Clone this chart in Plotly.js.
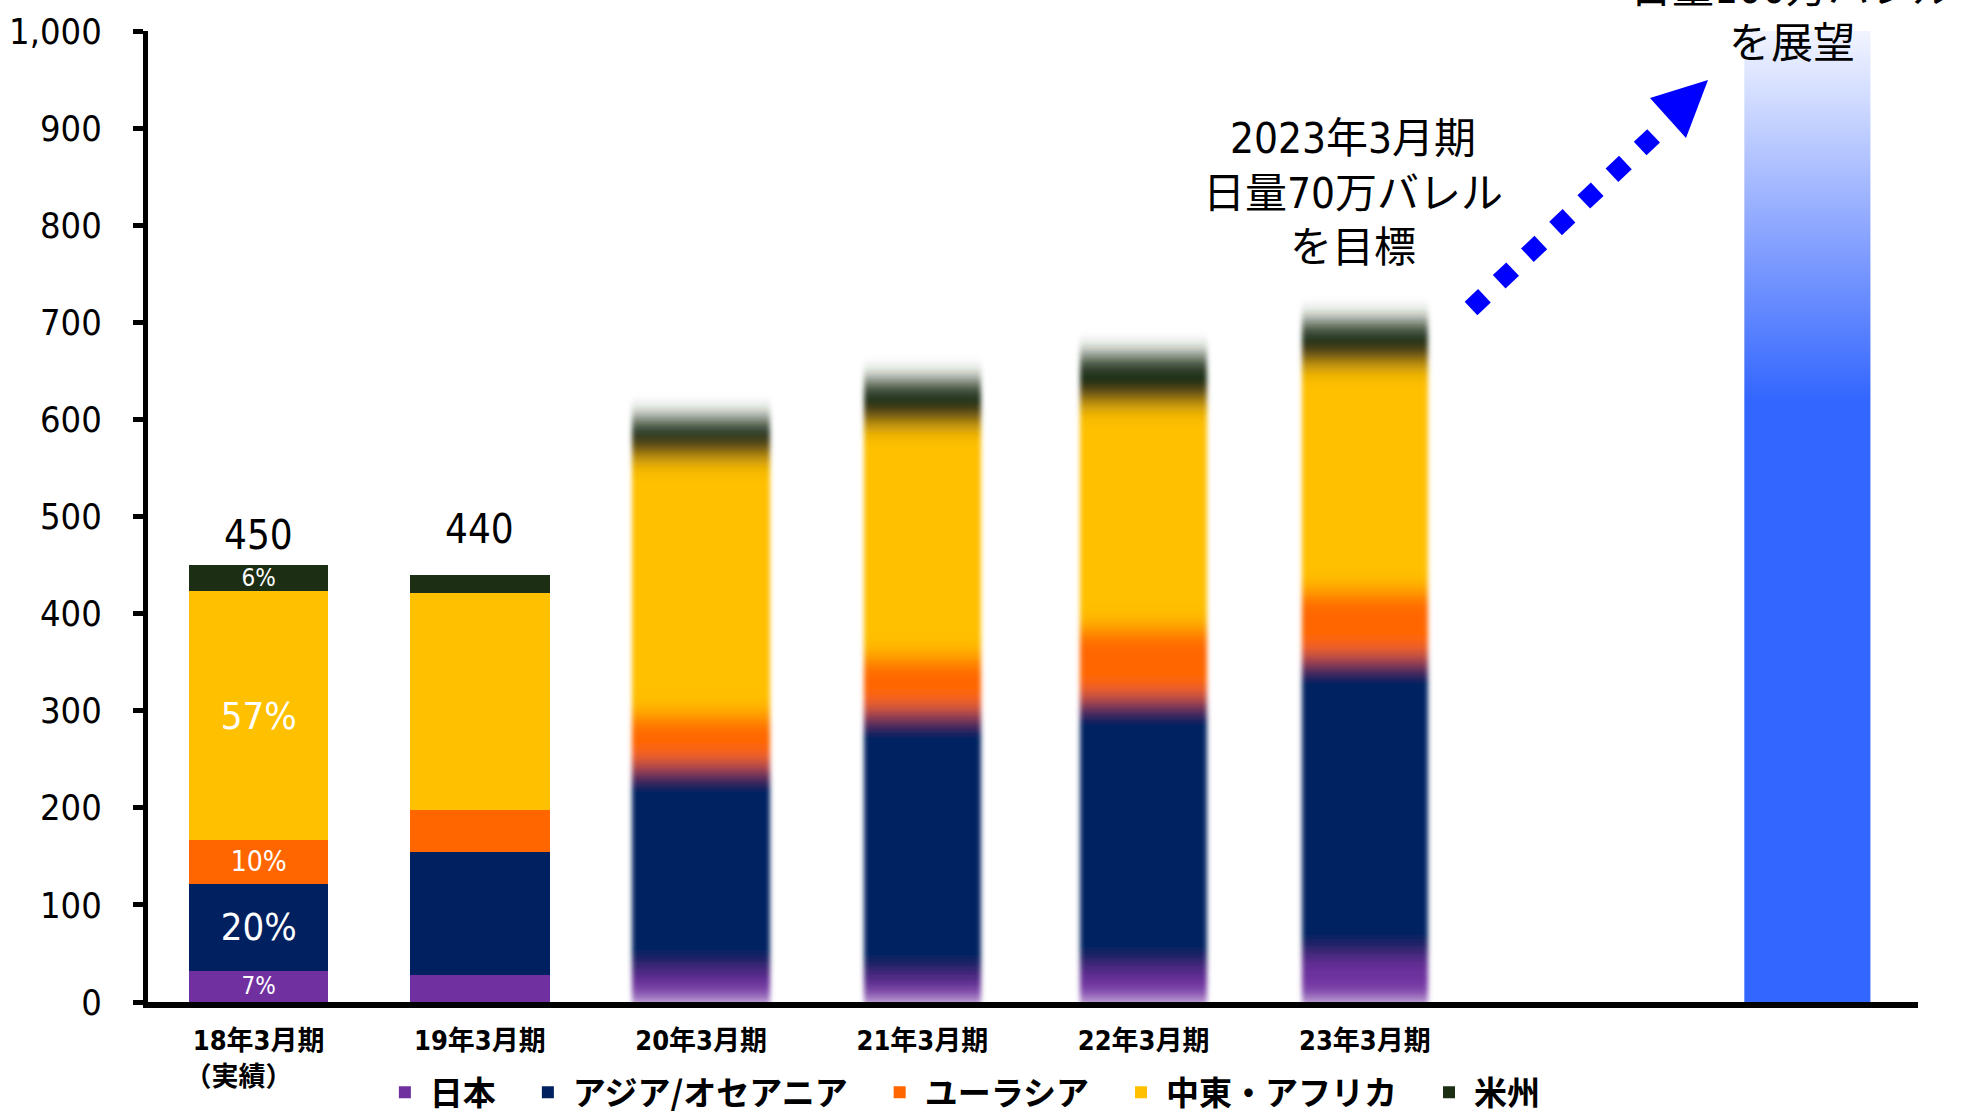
<!DOCTYPE html>
<html>
<head>
<meta charset="utf-8">
<script src="https://cdn.plot.ly/plotly-3.0.1.min.js"></script>
<style>
  html, body { margin: 0; padding: 0; background: #ffffff; }
  #chart { width: 1966px; height: 1116px; }
</style>
</head>
<body>
<div id="chart"></div>
<script>
// ---------------- data ----------------
const periods = ['18年3月期<br>（実績）\u3000\u3000', '19年3月期', '20年3月期', '21年3月期', '22年3月期', '23年3月期'];
const seriesNames = ['日本', 'アジア/オセアニア', 'ユーラシア', '中東・アフリカ', '米州'];
const japan            = [32, 28, 30, 25, 33, 45];
const asiaOceania      = [90, 126, 214, 275, 280, 310];
const eurasia          = [45, 44, 52, 55, 72, 68];
const middleEastAfrica = [256, 223, 264, 239, 231, 233];
const americas         = [27, 19, 40, 46, 49, 44];
const shareLabels = {        // shares shown inside the 18年3月期 bar
  japan: '7%', asiaOceania: '20%', eurasia: '10%', middleEastAfrica: '57%', americas: '6%'
};
const actualCount = 2;       // first two periods are actual, the rest are plans
const outlookIndex = 7;      // position of the long-term outlook bar
const outlookValue = 1000;   // 日量100万バレル
const targetNote = '2023年3月期<br>日量70万バレル<br>を目標';
const outlookNote = '日量100万バレル<br>を展望';

// ---------------- styles ----------------
const colors = ['#7030a0', '#002060', '#ff6600', '#ffc000', '#1c2e14'];
const shareFontSizes = [24, 38, 28, 38, 24];
const barWidths = [0.625, 0.63, 0.625, 0.53, 0.575, 0.57];
const outlookWidth = 0.57;
const totalShift = [30, 46];
const legendPad = '\u2002\u2006';  // spacing after each legend entry
const NUM = "'Liberation Sans Narrow', 'DejaVu Sans Condensed', 'Noto Sans CJK JP', sans-serif";
const JP = "'Noto Sans CJK JP', sans-serif";

const series = [japan, asiaOceania, eurasia, middleEastAfrica, americas];
const shareKeys = ['japan', 'asiaOceania', 'eurasia', 'middleEastAfrica', 'americas'];

const xIdx = periods.map((_, i) => i);
const traces = [];
series.forEach((vals, s) => {
  // actual years (sharp)
  traces.push({
    type: 'bar', name: seriesNames[s] + legendPad, legendgroup: seriesNames[s],
    x: xIdx.slice(0, actualCount), y: vals.slice(0, actualCount),
    width: barWidths.slice(0, actualCount),
    marker: { color: colors[s], line: { width: 0 } },
    text: xIdx.slice(0, actualCount).map(i => i === 0 ? shareLabels[shareKeys[s]] : ''),
    textposition: 'inside', insidetextanchor: 'middle', textangle: 0,
    constraintext: 'none',
    textfont: { family: NUM, size: shareFontSizes[s], color: '#ffffff' },
    xaxis: 'x', yaxis: 'y', hoverinfo: 'name+y'
  });
});
series.forEach((vals, s) => {
  // plan years (drawn on an overlay axis so that they can be softened)
  traces.push({
    type: 'bar', name: seriesNames[s], legendgroup: seriesNames[s], showlegend: false,
    x: xIdx.slice(actualCount), y: vals.slice(actualCount),
    width: barWidths.slice(actualCount),
    marker: { color: colors[s], line: { width: 0 } },
    xaxis: 'x2', yaxis: 'y', hoverinfo: 'name+y'
  });
});
// long-term outlook bar (gradient fill)
traces.push({
  type: 'scatter', mode: 'none', showlegend: false, hoverinfo: 'skip',
  x: [outlookIndex - outlookWidth / 2, outlookIndex + outlookWidth / 2, outlookIndex + outlookWidth / 2, outlookIndex - outlookWidth / 2],
  y: [0, 0, outlookValue, outlookValue],
  fill: 'toself',
  fillgradient: {
    type: 'vertical',
    colorscale: [[0, '#3366ff'], [0.62, '#3366ff'], [0.8, '#8fa8ff'], [0.93, '#d0dbff'], [1, '#f2f5ff']]
  }
});

// totals above actual bars
const annotations = [];
for (let i = 0; i < actualCount; i++) {
  const total = series.reduce((a, v) => a + v[i], 0);
  annotations.push({
    x: i, y: total, xref: 'x', yref: 'y', text: String(total), showarrow: false,
    yanchor: 'middle', yshift: totalShift[i],
    font: { family: NUM, size: 40, color: '#000000' }
  });
}
annotations.push({
  x: 5, y: 0.833, xref: 'x', yref: 'paper', text: targetNote, showarrow: false,
  xshift: -12, yanchor: 'middle', align: 'center',
  font: { family: NUM, size: 42, color: '#000000' }
});
annotations.push({
  x: outlookIndex, y: 1.015, xref: 'x', yref: 'paper', text: outlookNote, showarrow: false,
  xshift: -15, yanchor: 'middle', align: 'center',
  font: { family: NUM, size: 42, color: '#000000' }
});

// arrow (dotted body + head), positioned in paper units
const M = { l: 148, r: 48, t: 31, b: 114, autoexpand: false };
const W = 1966, H = 1116;
const pw = W - M.l - M.r, ph = H - M.t - M.b;
const px = X => (X - M.l) / pw;
const py = Y => (H - M.b - Y) / ph;
const shapes = [
  {
    type: 'line', xref: 'paper', yref: 'paper',
    x0: px(1471), y0: py(308.5), x1: px(1654), y1: py(135.5),
    line: { color: '#0000ff', width: 18.5, dash: '18.5px,20.3px' }
  },
  {
    type: 'path', xref: 'paper', yref: 'paper',
    path: `M${px(1650)},${py(98)} L${px(1708)},${py(80)} L${px(1686)},${py(138)} Z`,
    fillcolor: '#0000ff', line: { width: 0 }
  }
];

const layout = {
  width: W, height: H,
  margin: M,
  paper_bgcolor: '#ffffff', plot_bgcolor: '#ffffff',
  barmode: 'stack',
  bargap: 0.375,
  showlegend: true,
  legend: {
    orientation: 'h', x: 0.131, xanchor: 'left', y: -0.093, yanchor: 'middle',
    font: { family: JP, size: 33, color: '#000000', weight: 'bold' },
    itemwidth: 40, traceorder: 'normal', bgcolor: 'rgba(0,0,0,0)'
  },
  xaxis: {
    type: 'linear', range: [-0.5, 7.5], fixedrange: true,
    tickmode: 'array', tickvals: xIdx, ticktext: periods,
    ticks: '', showgrid: false, zeroline: false,
    showline: true, linecolor: '#000000', linewidth: 6,
    ticklabelstandoff: 10,
    tickfont: { family: NUM, size: 27, color: '#000000', weight: 'bold' }
  },
  xaxis2: {
    type: 'linear', range: [-0.5, 7.5], overlaying: 'x', matches: 'x', visible: false
  },
  yaxis: {
    range: [0, 1000], dtick: 100, tick0: 0, tickformat: ',d', fixedrange: true,
    ticks: 'outside', ticklen: 10, tickwidth: 5, tickcolor: '#000000',
    showline: true, linecolor: '#000000', linewidth: 5,
    showgrid: false, zeroline: false,
    ticklabelstandoff: 24,
    tickfont: { family: NUM, size: 36, color: '#000000' }
  },
  annotations: annotations,
  shapes: shapes
};

Plotly.newPlot('chart', traces, layout, { displayModeBar: false, staticPlot: true }).then(gd => {
  // soften the plan bars like the reference (vertical blur)
  const svg = gd.querySelector('svg.main-svg');
  const NS = 'http://www.w3.org/2000/svg';
  let defs = svg.querySelector('defs');
  if (!defs) { defs = document.createElementNS(NS, 'defs'); svg.insertBefore(defs, svg.firstChild); }
  const f = document.createElementNS(NS, 'filter');
  f.setAttribute('id', 'planblur');
  f.setAttribute('x', '-0.1'); f.setAttribute('y', '-0.1');
  f.setAttribute('width', '1.2'); f.setAttribute('height', '1.2');
  const b = document.createElementNS(NS, 'feGaussianBlur');
  b.setAttribute('stdDeviation', '2.5 11');
  f.appendChild(b); defs.appendChild(f);
  const g = gd.querySelector('.overplot .x2y .barlayer');
  if (g) g.setAttribute('filter', 'url(#planblur)');
});
</script>
</body>
</html>
